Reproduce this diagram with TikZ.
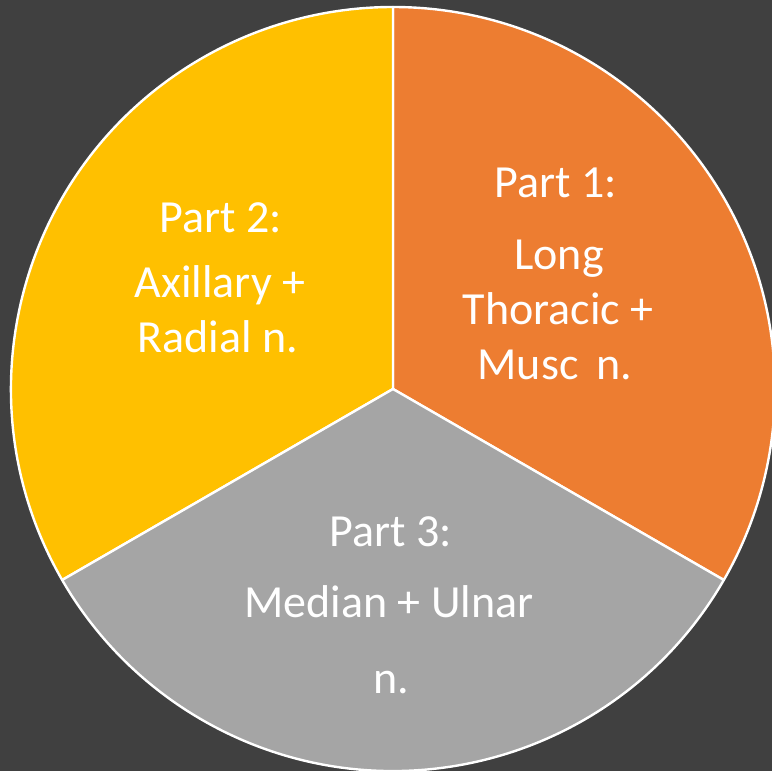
\documentclass[tikz,border=0pt]{standalone}
\usepackage{fontspec}
\setmainfont{Carlito}
\begin{document}
\begin{tikzpicture}[x=1pt, y=1pt, font=\fontsize{46}{55}\selectfont,
    slice/.style={draw=white, line width=2.4pt, line join=round},
    txt/.style={text=white, anchor=base, inner sep=0pt}]
    \definecolor{bggray}{RGB}{64, 64, 64}
    \definecolor{partorange}{RGB}{237, 125, 49}
    \definecolor{partyellow}{RGB}{255, 192, 0}
    \definecolor{partgray}{RGB}{165, 165, 165}
    \useasboundingbox (-393,-382) rectangle (379,389);
    \clip (-393,-382) rectangle (379,389);
    \fill[bggray] (-393,-382) rectangle (379,389);
    % three equal slices, radius 382
    \filldraw[slice, fill=partorange] (0,0) -- (90:382) arc (90:-30:382) -- cycle;
    \filldraw[slice, fill=partyellow] (0,0) -- (210:382) arc (210:90:382) -- cycle;
    \filldraw[slice, fill=partgray] (0,0) -- (-30:382) arc (-30:-150:382) -- cycle;
    % labels, one line each
    \node[txt] (p1title) at (163,191) {Part 1:};
    \node[txt] (p1long) at (166,119) {Long};
    \node[txt] (p1thor) at (165,64) {Thoracic +};
    \node[txt] (p1musc) at (162,9) {Musc\,\ n.};
    \node[txt] (p2title) at (-172,156) {Part 2:};
    \node[txt] (p2axil) at (-173,91) {Axillary +};
    \node[txt] (p2rad) at (-175,36) {Radial n.};
    \node[txt] (p3title) at (-2,-158) {Part 3:};
    \node[txt] (p3med) at (-4,-229) {Median + Ulnar};
    \node[txt] (p3n) at (-2,-304) {n.};
\end{tikzpicture}
\end{document}
